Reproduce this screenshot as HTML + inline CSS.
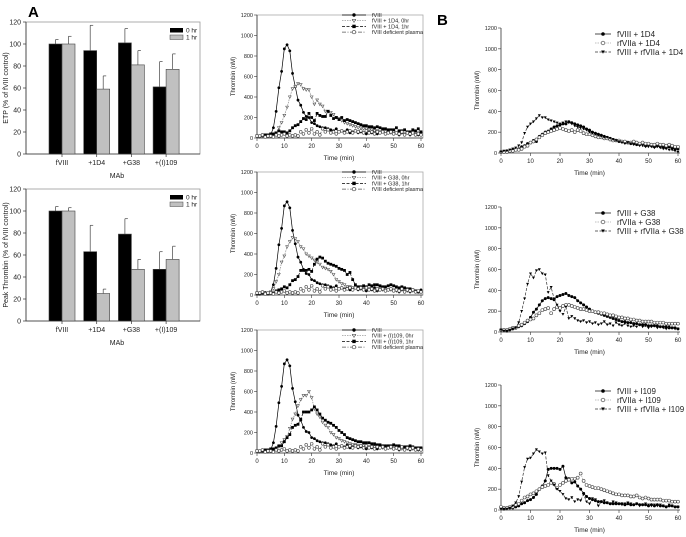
<!DOCTYPE html>
<html><head><meta charset="utf-8"><style>
html,body{margin:0;padding:0;background:#fff;}
svg{display:block;font-family:"Liberation Sans",sans-serif;}
</style></head><body>
<svg id="fig" width="686" height="537" viewBox="0 0 686 537" xmlns="http://www.w3.org/2000/svg">
<text x="28" y="17" font-size="15" font-weight="bold">A</text>
<text x="437" y="25" font-size="15" font-weight="bold">B</text>
</svg>
<script>
// ---- bar chart data ----
const barCats = ["fVIII","+1D4","+G38","+(I)109"];
const etp0 = [100,94,101,61];
const etp0Err = [4,23,13,23];
const etp1 = [100,59,81,77];
const etp1Err = [7,12,13,14];
const peak0 = [100,63,79,47];
const peak0Err = [4,24,14,16];
const peak1 = [100,25,47,56];
const peak1Err = [3,4,9,12];
const barTicks = [0,20,40,60,80,100,120];
const lineYTicks = [0,200,400,600,800,1000,1200];
const lineXTicks = [0,10,20,30,40,50,60];
// ---- time-course data (1 min intervals, 0..60) ----
const fviii = [20,15,20,25,20,30,100,260,490,650,870,910,850,630,500,370,320,250,210,200,150,140,120,110,100,100,90,80,70,90,60,70,60,80,50,60,70,50,60,50,40,60,50,70,40,50,60,40,50,60,40,50,30,50,40,60,30,50,40,30,50];
const deficient = [20,20,30,10,20,20,10,30,20,30,40,20,30,20,30,20,60,40,80,50,90,40,60,30,90,60,80,50,60,40,60,70,50,60,70,50,70,60,70,50,70,50,60,40,60,50,60,40,50,60,40,50,40,60,30,50,40,50,30,40,30];
const d1d4h0 = [20,10,20,30,20,30,40,50,100,150,220,300,400,480,500,530,520,480,470,470,400,330,370,330,310,260,260,250,230,200,190,170,150,140,130,120,110,100,100,90,90,80,80,70,70,60,70,60,60,50,60,50,60,50,40,50,40,50,40,50,40];
const d1d4h1 = [20,20,30,30,30,40,40,50,70,60,60,50,70,100,120,130,160,190,180,240,200,170,240,220,210,210,260,220,190,200,180,200,170,180,170,160,150,140,130,120,120,110,110,100,110,100,90,90,80,80,80,100,70,70,80,60,60,80,70,90,60];
const g38h0 = [20,10,20,20,20,30,60,130,200,320,380,470,520,560,550,520,470,450,400,380,360,340,320,300,270,260,250,230,200,150,130,110,100,80,80,70,70,70,60,60,60,60,60,50,50,60,50,50,50,50,50,40,40,50,40,40,40,40,40,30,30];
const g38h1 = [10,10,20,10,10,20,20,40,50,60,80,70,100,140,150,180,240,240,240,250,230,300,350,370,360,330,310,300,290,280,260,250,240,200,220,150,100,80,80,90,80,100,90,100,100,90,80,80,90,100,90,80,70,80,70,60,60,50,40,30,30];
const i109h0 = [20,10,20,20,10,20,30,40,60,100,130,160,240,330,380,460,520,560,560,600,540,430,380,350,300,270,250,200,180,150,140,120,110,100,90,80,80,70,70,70,60,60,60,60,60,60,50,50,50,50,50,50,40,40,40,40,40,40,40,30,30];
const i109h1 = [20,20,20,30,30,40,40,50,70,70,110,150,180,250,270,280,330,400,400,400,420,450,420,380,340,320,300,290,270,250,220,200,180,150,140,130,120,110,110,100,100,100,90,90,80,80,70,70,70,70,80,70,70,60,60,60,70,60,50,50,50];
const f1d4 = [10,10,20,20,30,30,40,60,70,90,100,120,110,160,180,200,210,230,250,260,270,280,280,300,290,280,270,260,250,230,220,200,190,180,170,160,150,140,130,120,110,110,100,100,90,90,80,80,90,70,80,70,60,70,60,60,50,60,50,40,40];
const r1d4 = [10,10,10,20,20,30,30,40,60,70,100,110,130,150,170,190,200,210,220,230,240,230,220,210,220,200,220,210,190,180,180,170,160,150,150,140,140,130,120,120,120,110,110,100,100,110,100,90,100,90,90,80,80,90,80,80,70,80,70,60,60];
const fr1d4 = [10,20,20,30,40,50,70,100,190,250,280,300,330,360,340,340,320,310,300,290,280,290,300,290,280,260,250,240,230,220,200,190,180,170,160,150,150,140,130,120,110,100,90,100,90,80,80,70,70,60,60,60,50,60,50,40,40,30,30,20,10];
const fg38 = [20,20,10,20,30,40,50,60,80,100,140,190,220,260,300,320,330,320,310,340,350,360,370,350,340,330,300,280,260,240,220,200,190,180,170,160,150,140,130,120,110,100,100,90,90,80,80,70,70,70,60,60,60,60,50,50,50,40,40,40,30];
const rg38 = [20,20,20,30,40,40,60,70,90,110,120,130,160,180,210,220,230,180,220,240,230,250,260,260,250,240,230,220,220,210,200,200,190,190,180,180,170,160,160,150,140,140,130,130,120,120,110,110,100,100,100,100,90,90,90,90,80,80,80,80,80];
const frg38 = [20,10,10,20,30,40,90,200,320,460,560,520,590,600,560,550,380,430,320,260,200,170,240,130,150,130,110,100,110,90,100,80,90,70,80,100,70,80,60,90,70,60,80,60,50,60,50,70,50,60,40,50,60,40,50,40,30,50,40,30,30];
const fi109 = [20,10,20,20,20,30,40,60,70,90,100,120,150,200,230,280,390,400,400,400,390,420,310,300,260,270,230,200,160,130,110,100,90,80,80,70,70,60,60,60,60,60,50,60,50,50,60,50,50,50,40,50,40,50,40,40,30,40,40,30,30];
const ri109 = [30,20,20,30,30,50,60,90,120,130,150,160,180,200,220,230,240,260,250,210,240,260,280,290,300,300,310,350,280,240,230,220,210,210,200,190,180,170,160,150,150,140,140,140,130,130,140,120,110,120,110,100,100,100,100,90,90,90,80,80,80];
const fri109 = [10,10,10,20,40,70,130,270,410,490,500,540,580,560,540,550,330,280,240,200,180,150,110,100,120,80,100,90,150,80,60,110,100,40,80,90,70,60,80,70,60,50,60,70,60,50,60,40,50,60,50,40,50,40,50,40,30,50,40,30,30];

const NS="http://www.w3.org/2000/svg";
const svg=document.getElementById('fig');
function mk(tag,attrs,parent){const e=document.createElementNS(NS,tag);for(const k in attrs)e.setAttribute(k,attrs[k]);(parent||svg).appendChild(e);return e;}
function txt(x,y,s,size,anchor,parent,extra){const t=mk('text',Object.assign({x:x,y:y,'font-size':size,'text-anchor':anchor||'start',fill:'#222'},extra||{}),parent);t.textContent=s;return t;}

function barChart(name,top,ylabel,v0,e0,v1,e1){
  const g=mk('g',{});
  
  
  const L=26,R=200,T=top,B=top+132;
  const ys=v=>B-(v/120)*(B-T);
  const xc=i=>62+i*34.7;
  mk('rect',{x:L,y:T,width:R-L,height:B-T,fill:'none',stroke:'#999','stroke-width':0.8},g);
  mk('line',{x1:L,y1:T,x2:L,y2:B,stroke:'#333','stroke-width':0.8},g);
  mk('line',{x1:L,y1:B,x2:R,y2:B,stroke:'#333','stroke-width':0.8},g);
  barTicks.forEach(t=>{mk('line',{x1:L-3,y1:ys(t),x2:L,y2:ys(t),stroke:'#333','stroke-width':0.7},g);txt(L-5,ys(t)+2.5,String(t),7,'end',g);});
  barCats.forEach((c,i)=>{
    const x=xc(i);
    [[v0,e0,'#000',x-13],[v1,e1,'#c0c0c0',x]].forEach(([v,e,col,bx],k)=>{
      const b=mk('rect',{x:bx,y:ys(v[i]),width:13,height:B-ys(v[i]),fill:col,stroke:'#444','stroke-width':0.6},g);
      
      
      const cx=bx+6.5;
      mk('line',{x1:cx,y1:ys(v[i]),x2:cx,y2:ys(v[i]+e[i]),stroke:'#444','stroke-width':0.7},g);
      mk('line',{x1:cx,y1:ys(v[i]+e[i]),x2:cx+3,y2:ys(v[i]+e[i]),stroke:'#444','stroke-width':0.7},g);
    });
    mk('line',{x1:x,y1:B,x2:x,y2:B+3,stroke:'#333','stroke-width':0.7},g);
    txt(x,B+11,c,7,'middle',g);
  });
  txt(L+(R-L)/2+4,B+24,'MAb',7,'middle',g);
  txt(0,0,ylabel,7,'middle',g,{transform:'translate(8,'+((T+B)/2)+') rotate(-90)'});
  mk('rect',{x:170,y:T+6,width:13,height:4.5,fill:'#000'},g);
  txt(186,T+10.5,'0 hr',6.5,'start',g);
  mk('rect',{x:170,y:T+13,width:13,height:4.5,fill:'#c0c0c0',stroke:'#444','stroke-width':0.5},g);
  txt(186,T+17.5,'1 hr',6.5,'start',g);
}
barChart('etp-bar-chart',22,'ETP (% of fVIII control)',etp0,etp0Err,etp1,etp1Err);
barChart('peak-thrombin-bar-chart',189,'Peak Thrombin (% of fVIII control)',peak0,peak0Err,peak1,peak1Err);

function marker(g,type,x,y,s){
  if(type==='fc')mk('circle',{cx:x,cy:y,r:s,fill:'#000'},g);
  else if(type==='oc')mk('circle',{cx:x,cy:y,r:s,fill:'#fff',stroke:'#444','stroke-width':0.6},g);
  else if(type==='fs')mk('rect',{x:x-s,y:y-s,width:2*s,height:2*s,fill:'#000'},g);
  else if(type==='ot')mk('path',{d:`M${x-s},${y-s*0.8}L${x+s},${y-s*0.8}L${x},${y+s}Z`,fill:'#fff',stroke:'#555','stroke-width':0.6},g);
  else if(type==='ft')mk('path',{d:`M${x-s},${y-s*0.8}L${x+s},${y-s*0.8}L${x},${y+s}Z`,fill:'#000'},g);
}
function lineChart(name,L,R,T,B,series,box,fs,legX,legTxtX,legDy,ms){
  const g=mk('g',{});
  
  
  const xs=t=>L+(t/60)*(R-L), ys=v=>B-(v/1200)*(B-T);
  if(box)mk('rect',{x:L,y:T,width:R-L+2,height:B-T,fill:'none',stroke:'#aaa','stroke-width':0.8},g);
  mk('line',{x1:L,y1:T,x2:L,y2:B,stroke:'#333','stroke-width':0.8},g);
  mk('line',{x1:L,y1:B,x2:R+2,y2:B,stroke:'#333','stroke-width':0.8},g);
  lineYTicks.forEach(t=>{mk('line',{x1:L-3,y1:ys(t),x2:L,y2:ys(t),stroke:'#333','stroke-width':0.6},g);txt(L-4,ys(t)+2,String(t),5.5,'end',g);});
  lineXTicks.forEach(t=>{mk('line',{x1:xs(t),y1:B,x2:xs(t),y2:B+3,stroke:'#333','stroke-width':0.6},g);txt(xs(t),B+10,String(t),6,'middle',g);});
  txt((L+R)/2,B+22,'Time (min)',6.5,'middle',g);
  txt(0,0,'Thrombin (nM)',6,'middle',g,{transform:'translate('+(L-22)+','+((T+B)/2)+') rotate(-90)'});
  series.forEach((s,k)=>{
    const sg=mk('g',{},g);
    
    
    const pts=s.data.map((v,i)=>xs(i).toFixed(1)+','+ys(v).toFixed(1)).join(' ');
    mk('polyline',{points:pts,fill:'none',stroke:s.col,'stroke-width':0.7,'stroke-dasharray':s.dash||'none'},sg);
    s.data.forEach((v,i)=>marker(sg,s.m,xs(i),ys(v),ms));
    const ly=T+legDy[0]+k*legDy[1];
    const lg=mk('g',{},g);
    
    
    mk('line',{x1:legX,y1:ly,x2:legTxtX-6,y2:ly,stroke:s.col,'stroke-width':0.7,'stroke-dasharray':s.dash||'none'},lg);
    marker(lg,s.m,(legX+legTxtX-6)/2,ly,ms+0.3);
    txt(legTxtX,ly+fs*0.35,s.label,fs,'start',lg);
  });
}
const col2=(T)=>[257,421,T,T+123];
const defS={key:'deficient',data:deficient,m:'oc',col:'#555',dash:'4,1.5,1,1.5',label:'fVIII deficient plasma'};
const fS={key:'fviii',data:fviii,m:'fc',col:'#000',label:'fVIII'};
lineChart('chart-1d4-time',...col2(15),[fS,{key:'1d4-0hr',data:d1d4h0,m:'ot',col:'#888',dash:'1.5,1',label:'fVIII + 1D4, 0hr'},{key:'1d4-1hr',data:d1d4h1,m:'fs',col:'#000',dash:'3,1.5',label:'fVIII + 1D4, 1hr'},defS],true,5.5,342,372,[0,5.7],1.4);
lineChart('chart-g38-time',...col2(172),[fS,{key:'g38-0hr',data:g38h0,m:'ot',col:'#888',dash:'1.5,1',label:'fVIII + G38, 0hr'},{key:'g38-1hr',data:g38h1,m:'fs',col:'#000',dash:'3,1.5',label:'fVIII + G38, 1hr'},defS],true,5.5,342,372,[0,5.7],1.4);
lineChart('chart-i109-time',...col2(330),[fS,{key:'i109-0hr',data:i109h0,m:'ot',col:'#888',dash:'1.5,1',label:'fVIII + (I)109, 0hr'},{key:'i109-1hr',data:i109h1,m:'fs',col:'#000',dash:'3,1.5',label:'fVIII + (I)109, 1hr'},defS],true,5.5,342,372,[0,5.7],1.4);
const col3=(T)=>[501,678,T,T+125];
function c3(tag,a,b,c){return [{key:'fviii-'+tag,data:a,m:'fc',col:'#000',label:'fVIII + '+tag},{key:'rfviia-'+tag,data:b,m:'oc',col:'#aaa',dash:'1.5,1',label:'rfVIIa + '+tag},{key:'fviii-rfviia-'+tag,data:c,m:'ft',col:'#333',dash:'3,1.5',label:'fVIII + rfVIIa + '+tag}];}
lineChart('chart-1d4-rfviia',...col3(28),c3('1D4',f1d4,r1d4,fr1d4),false,8,595,617,[6,9],1.5);
lineChart('chart-g38-rfviia',...col3(207),c3('G38',fg38,rg38,frg38),false,8,595,617,[6,9],1.5);
lineChart('chart-i109-rfviia',...col3(385),c3('I109',fi109,ri109,fri109),false,8,595,617,[6,9],1.5);
</script>
</body></html>
